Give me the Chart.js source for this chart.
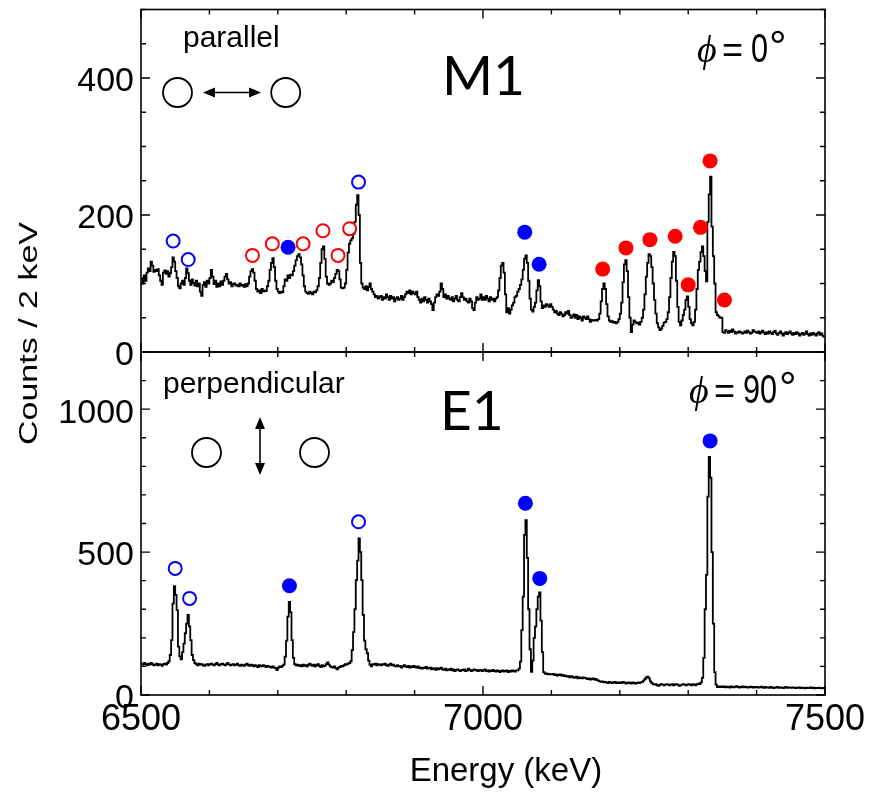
<!DOCTYPE html>
<html>
<head>
<meta charset="utf-8">
<script src="https://cdn.jsdelivr.net/npm/chart.js@4.4.1/dist/chart.umd.min.js"></script>
<style>
  body { margin: 0; background: #fff; }
  #wrap { position: relative; width: 875px; height: 792px; }
  #wrap canvas { position: absolute; left: 0; top: 0; }
</style>
</head>
<body>
<div id="wrap">
  <canvas id="e1Chart" width="875" height="792"></canvas>
  <canvas id="m1Chart" width="875" height="792"></canvas>
</div>
<script>
// spectra in 2 keV bins starting at 6500 keV
const energyStart = 6500;
const binWidth = 2;

// phi = 0 deg (parallel), counts per bin
const m1Counts = [
  108,100,112,104,116,122,118,132,126,117,120,118,121,112,104,98,116,119,114,118,110,115,124,138,132,
  118,108,96,93,100,104,98,108,122,115,104,98,106,101,97,104,96,100,88,82,98,102,95,104,100,
  108,120,110,99,104,95,100,96,103,98,104,110,114,106,100,102,96,99,100,97,98,96,100,97,98,
  95,99,96,100,110,118,121,116,104,92,88,90,86,92,88,90,89,96,104,120,130,137,124,104,92,
  88,86,88,87,96,106,104,112,108,113,112,118,126,134,140,143,138,128,112,96,88,86,85,88,86,
  84,88,87,90,96,108,130,150,154,136,110,100,98,100,104,102,108,114,120,118,106,94,93,94,100,
  120,145,158,163,166,172,190,215,229,200,130,100,94,92,96,90,95,100,92,88,84,80,82,78,80,
  82,76,80,78,84,80,76,82,78,80,74,78,80,76,78,82,76,80,84,88,86,90,84,88,86,
  84,88,80,76,72,78,74,80,76,72,78,74,70,61,72,80,84,82,88,100,92,80,84,78,82,
  78,76,80,74,78,82,76,74,80,86,80,76,78,74,72,78,74,64,61,72,80,76,78,84,76,
  80,76,82,78,74,80,76,78,74,78,80,90,108,126,130,116,84,58,64,56,62,68,72,80,82,
  88,92,98,106,120,136,141,130,104,78,62,59,66,72,90,105,96,74,64,68,66,70,68,66,70,
  66,62,58,60,56,54,58,56,52,54,58,56,60,54,50,52,55,50,54,48,52,50,46,52,50,
  48,52,48,44,47,46,46,47,46,48,56,74,92,100,92,70,52,46,44,45,43,44,42,44,48,
  56,72,102,128,134,118,80,50,29,40,46,44,42,43,40,44,50,62,84,110,130,143,140,124,100,
  76,56,42,36,32,34,38,43,44,48,58,80,108,132,146,140,104,66,44,39,46,54,62,76,81,
  66,48,42,39,44,62,92,120,132,146,154,140,118,103,190,230,256,183,140,100,58,54,52,50,50,
  29,28,32,30,28,31,29,33,30,27,29,28,30,29,27,28,30,28,31,29,27,28,32,30,29,
  28,30,27,29,31,28,26,29,27,30,28,26,29,31,27,25,28,30,27,24,27,29,26,28,30,
  27,25,28,26,29,27,24,26,28,25,27,30,26,24,27,25,28,26,24,27,29,25,27,24,22
];

// phi = 90 deg (perpendicular), counts per bin
const e1Counts = [
  110,106,112,108,104,110,106,112,108,104,106,110,104,108,106,102,108,110,106,112,118,140,192,320,381,
  350,297,169,135,125,150,180,216,250,280,240,192,140,122,112,108,104,110,106,108,104,102,106,108,104,
  108,110,106,104,108,112,106,104,108,110,106,104,108,112,106,104,106,108,104,106,110,104,102,106,104,
  102,106,110,104,102,106,104,100,104,102,98,104,102,100,104,102,98,102,100,98,96,100,96,94,87,
  96,100,98,102,106,134,190,274,326,290,192,130,108,104,106,102,104,100,106,102,104,100,106,110,104,
  102,106,100,104,108,102,98,104,100,102,108,114,106,100,98,96,100,94,90,96,98,102,100,104,108,
  106,110,112,118,157,220,300,402,470,548,500,402,280,190,160,146,120,106,100,108,106,110,104,108,106,
  104,108,106,110,104,102,106,110,104,106,102,100,104,100,102,96,100,104,100,98,102,96,100,98,102,
  98,96,100,94,96,92,96,94,98,92,94,96,90,94,92,88,94,90,92,96,90,88,92,86,90,
  88,92,86,90,84,88,90,86,84,88,86,90,84,86,92,88,84,86,90,86,88,84,86,88,84,
  86,90,84,86,82,86,84,88,84,82,86,84,80,84,86,82,84,86,80,84,82,86,84,82,86,
  86,92,117,227,344,560,612,480,300,160,81,120,200,239,300,344,359,260,150,80,74,76,72,74,72,
  72,74,70,72,68,70,72,68,70,66,68,64,66,62,66,64,60,62,64,58,62,60,58,62,60,
  58,56,58,54,56,58,54,56,52,50,48,46,48,44,46,44,42,46,44,42,44,46,42,44,42,
  44,42,46,44,40,42,44,42,40,44,42,40,42,44,42,44,46,50,56,62,64,58,48,42,38,
  36,38,34,32,36,38,36,34,36,38,36,34,36,38,34,36,38,36,32,34,36,38,36,34,36,
  38,36,34,38,36,34,38,40,38,44,60,130,300,420,694,833,760,500,250,80,36,28,30,28,30,
  28,30,27,29,28,26,30,28,27,29,31,28,26,28,30,27,29,28,26,27,29,28,26,28,27,
  28,26,27,29,27,25,28,26,27,25,28,26,24,27,26,28,25,27,26,24,26,28,25,27,26,
  25,27,26,24,26,25,27,24,26,25,23,26,24,25,27,24,26,23,25,24,26,24,23,25,24
];

// peak markers: energy (keV) and height (counts)
const m1OpenBlueE = [6547, 6569, 6818];
const m1OpenBlueY = [162, 135, 248];
const m1BlueE = [6715, 7061, 7082];
const m1BlueY = [153, 175, 128];
const m1OpenRedE = [6663, 6692, 6737, 6766, 6788, 6805];
const m1OpenRedY = [141, 158, 158, 177, 141, 180];
const m1RedE = [7175, 7209, 7244, 7281, 7300, 7318, 7332, 7353];
const m1RedY = [121, 152, 164, 169, 98, 182, 279, 76];

const e1OpenBlueE = [6550, 6571, 6818];
const e1OpenBlueY = [443, 338, 606];
const e1BlueE = [6717, 7062, 7083, 7332];
const e1BlueY = [382, 671, 408, 889];

// axis ranges and labelled ticks
const energyRange = [6500, 7500];
const energyLabels = [6500, 7000, 7500];
const m1Range = [0, 500];
const m1Labels = [0, 200, 400];
const e1Range = [0, 1200];
const e1Labels = [0, 500, 1000];

const BLUE = '#0000ff';
const RED = '#ff0000';
const SANS = '"Liberation Sans", Arial, sans-serif';
const ROUND = 'Lato, "Open Sans", sans-serif';

function spectrum(counts) {
  return counts.map((c, i) => ({ x: energyStart + binWidth * (i + 0.5), y: c }));
}
function points(es, ys) {
  return es.map((e, i) => ({ x: e, y: ys[i] }));
}
function openMarkers(es, ys, color) {
  return { type: 'scatter', data: points(es, ys), pointRadius: 6.5, pointBorderWidth: 2,
    pointBackgroundColor: '#fff', pointBorderColor: color, order: 0 };
}
function filledMarkers(es, ys, color) {
  return { type: 'scatter', data: points(es, ys), pointRadius: 7.5, pointBorderWidth: 0,
    pointBackgroundColor: color, pointBorderColor: color, order: 0 };
}
function spectrumSet(counts) {
  return { type: 'line', data: spectrum(counts), stepped: 'middle', borderColor: '#000',
    borderWidth: 1.8, pointRadius: 0, fill: false, order: 2 };
}

// box around each panel with inward ticks on all four sides
const framePlugin = {
  id: 'frame',
  afterDatasetsDraw(chart, args, opts) {
    const { ctx, chartArea: a } = chart;
    const xs = chart.scales.x, ys = chart.scales.y;
    ctx.save();
    ctx.strokeStyle = '#000';
    ctx.lineWidth = 1.6;
    ctx.strokeRect(a.left, a.top, a.right - a.left, a.bottom - a.top);
    ctx.lineWidth = 1.4;
    ctx.beginPath();
    for (let v = energyRange[0]; v <= energyRange[1]; v += 100) {
      const px = xs.getPixelForValue(v);
      const len = energyLabels.includes(v) ? 9 : 5;
      ctx.moveTo(px, a.bottom); ctx.lineTo(px, a.bottom - len);
      ctx.moveTo(px, a.top); ctx.lineTo(px, a.top + len);
    }
    ys.ticks.forEach(t => {
      const py = ys.getPixelForValue(t.value);
      const len = opts.labels.includes(t.value) ? 9 : 5;
      ctx.moveTo(a.left, py); ctx.lineTo(a.left + len, py);
      ctx.moveTo(a.right, py); ctx.lineTo(a.right - len, py);
    });
    ctx.stroke();
    ctx.restore();
  }
};

function detectorSketch(ctx, c1, c2, r) {
  ctx.beginPath();
  ctx.arc(c1[0], c1[1], r, 0, Math.PI * 2);
  ctx.moveTo(c2[0] + r, c2[1]);
  ctx.arc(c2[0], c2[1], r, 0, Math.PI * 2);
  ctx.stroke();
}
function arrowHead(ctx, tip, dir, len, half) {
  const [dx, dy] = dir;
  ctx.beginPath();
  ctx.moveTo(tip[0], tip[1]);
  ctx.lineTo(tip[0] - dx * len - dy * half, tip[1] - dy * len + dx * half);
  ctx.lineTo(tip[0] - dx * len + dy * half, tip[1] - dy * len - dx * half);
  ctx.closePath();
  ctx.fill();
}
// "phi = N deg" label, pieces placed at x offsets [=, value, degree]
function phiLabel(ctx, x, y, value, offs) {
  ctx.textAlign = 'left';
  ctx.textBaseline = 'alphabetic';
  ctx.font = 'italic 38px "Liberation Serif", serif';
  ctx.fillText('\u03D5', x, y);
  ctx.font = '36px ' + SANS;
  ctx.fillText('=', x + offs[0], y);
  ctx.save();
  ctx.translate(x + offs[1], y);
  ctx.scale(0.85, 1.15);
  ctx.fillText(value, 0, 0);
  ctx.restore();
  ctx.font = '44px ' + SANS;
  ctx.fillText('\u00B0', x + offs[2], y);
}

const m1Notes = {
  id: 'm1Notes',
  afterDraw(chart) {
    const { ctx } = chart;
    ctx.save();
    ctx.fillStyle = '#000';
    ctx.strokeStyle = '#000';
    ctx.font = '30px ' + SANS;
    ctx.textBaseline = 'alphabetic';
    ctx.fillText('parallel', 183, 47);
    ctx.lineWidth = 1.8;
    detectorSketch(ctx, [177.5, 92.5], [285.7, 92.5], 14.5);
    ctx.lineWidth = 1.6;
    ctx.beginPath();
    ctx.moveTo(212, 92.5); ctx.lineTo(252, 92.5);
    ctx.stroke();
    arrowHead(ctx, [203, 92.5], [-1, 0], 12, 5);
    arrowHead(ctx, [261, 92.5], [1, 0], 12, 5);
    ctx.font = '55px ' + ROUND;
    ctx.fillText('M1', 442, 95);
    phiLabel(ctx, 697, 62, '0', [25, 54, 72]);
    ctx.restore();
  }
};

const e1Notes = {
  id: 'e1Notes',
  afterDraw(chart) {
    const { ctx } = chart;
    ctx.save();
    ctx.fillStyle = '#000';
    ctx.strokeStyle = '#000';
    ctx.font = '30px ' + SANS;
    ctx.textBaseline = 'alphabetic';
    ctx.fillText('perpendicular', 163, 393);
    ctx.lineWidth = 1.8;
    detectorSketch(ctx, [206.5, 452.5], [314.5, 452.5], 14.5);
    ctx.lineWidth = 1.6;
    ctx.beginPath();
    ctx.moveTo(260, 426); ctx.lineTo(260, 466);
    ctx.stroke();
    arrowHead(ctx, [260, 417], [0, -1], 12, 5);
    arrowHead(ctx, [260, 475], [0, 1], 12, 5);
    ctx.font = '55px ' + ROUND;
    ctx.fillText('E1', 440, 430);
    phiLabel(ctx, 689, 403, '90', [25, 54, 90]);

    // shared y-axis title, set narrow across the glyph height
    ctx.translate(37, 333.5);
    ctx.rotate(-Math.PI / 2);
    ctx.scale(1, 0.74);
    ctx.textAlign = 'center';
    ctx.font = '34px ' + SANS;
    ctx.fillText('Counts / 2 keV', 0, 0);
    ctx.restore();
  }
};

function yAxis(range, step, labels) {
  return {
    type: 'linear', min: range[0], max: range[1],
    afterFit: s => { s.width = 141; s.paddingTop = 0; s.paddingBottom = 0; },
    grid: { display: false, drawTicks: false },
    border: { display: false },
    ticks: {
      stepSize: step, autoSkip: false, padding: 7, labelOffset: 4, color: '#000',
      font: { family: SANS, size: 34 },
      callback: v => (labels.includes(v) ? String(v) : '')
    }
  };
}

const baseOptions = {
  responsive: false,
  animation: false,
  events: [],
  plugins: { legend: { display: false }, tooltip: { enabled: false } }
};

new Chart(document.getElementById('m1Chart'), {
  type: 'scatter',
  data: {
    datasets: [
      openMarkers(m1OpenBlueE, m1OpenBlueY, BLUE),
      filledMarkers(m1BlueE, m1BlueY, BLUE),
      openMarkers(m1OpenRedE, m1OpenRedY, RED),
      filledMarkers(m1RedE, m1RedY, RED),
      spectrumSet(m1Counts)
    ]
  },
  options: {
    ...baseOptions,
    layout: { autoPadding: false, padding: { left: 0, right: 50, top: 9.5, bottom: 440 } },
    plugins: { ...baseOptions.plugins, frame: { labels: m1Labels } },
    scales: {
      x: {
        type: 'linear', min: energyRange[0], max: energyRange[1],
        afterFit: s => { s.height = 0; s.paddingLeft = 0; s.paddingRight = 0; },
        grid: { display: false, drawTicks: false }, border: { display: false },
        ticks: { display: false, stepSize: 100 }
      },
      y: yAxis(m1Range, 50, m1Labels)
    }
  },
  plugins: [framePlugin, m1Notes]
});

new Chart(document.getElementById('e1Chart'), {
  type: 'scatter',
  data: {
    datasets: [
      openMarkers(e1OpenBlueE, e1OpenBlueY, BLUE),
      filledMarkers(e1BlueE, e1BlueY, BLUE),
      spectrumSet(e1Counts)
    ]
  },
  options: {
    ...baseOptions,
    layout: { autoPadding: false, padding: { left: 0, right: 50, top: 352, bottom: 0 } },
    plugins: { ...baseOptions.plugins, frame: { labels: e1Labels } },
    scales: {
      x: {
        type: 'linear', min: energyRange[0], max: energyRange[1],
        afterFit: s => { s.height = 97; s.paddingLeft = 0; s.paddingRight = 0; },
        grid: { display: false, drawTicks: false }, border: { display: false },
        ticks: {
          stepSize: 100, autoSkip: false, maxRotation: 0, padding: 3, color: '#000',
          font: { family: SANS, size: 36 },
          callback: v => (energyLabels.includes(v) ? String(v) : '')
        },
        title: {
          display: true, text: '     Energy (keV)', color: '#000',
          font: { family: SANS, size: 33, lineHeight: 1 }, padding: { top: 0, bottom: 4 }
        }
      },
      y: yAxis(e1Range, 100, e1Labels)
    }
  },
  plugins: [framePlugin, e1Notes]
});
</script>
</body>
</html>
